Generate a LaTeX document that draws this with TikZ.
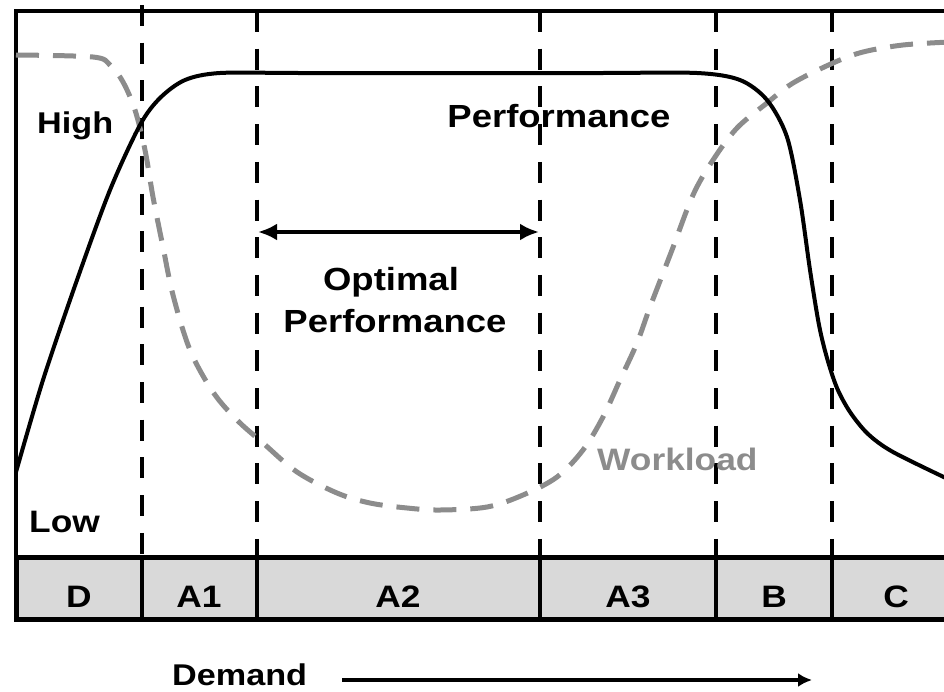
\documentclass[tikz,border=0pt]{standalone}
\usepackage{fontspec}
\setmainfont{Liberation Sans}[FakeStretch=1.14]
\usetikzlibrary{arrows.meta}
\definecolor{wlgray}{HTML}{8C8C8C}
\definecolor{bandgray}{HTML}{D9D9D9}
\tikzset{
  frameline/.style={line width=4.5pt},
  zoneline/.style={line width=4pt, dash pattern=on 21pt off 16.7pt},
  perfcurve/.style={line width=4pt, line join=round},
  loadcurve/.style={line width=5pt, wlgray, dash pattern=on 23pt off 14pt},
  lbl/.style={inner sep=0pt, font=\bfseries\fontsize{#1}{#1}\selectfont},
  zonelbl/.style={lbl=31, anchor=base},
  darrow/.style={line width=4pt, -{Latex[length=14pt,width=14pt]}},
  oarrow/.style={line width=4pt, {Latex[length=19pt,width=17pt]}-{Latex[length=19pt,width=17pt]}}
}
\begin{document}
\begin{tikzpicture}[x=1pt,y=-1pt]
\useasboundingbox (0,0) rectangle (944,691);
\begin{scope}
\clip (0,0) rectangle (944,691);

% zone band along the bottom
\draw[frameline, line width=5pt, fill=bandgray] (16,557) rectangle (1000,619);
\foreach \x in {142,257,540,716,832}
  \draw[line width=4pt] (\x,557) -- (\x,619);

% frame (left and top)
\draw[frameline] (16,557) -- (16,11) -- (1000,11);

% dashed zone boundaries
\draw[zoneline] (142,5) -- (142,555);
\foreach \x in {257,540,716,832}
  \draw[zoneline] (\x,11) -- (\x,555);

% workload curve
\draw[loadcurve] plot[smooth, tension=0.55] coordinates {
  (16,55) (93,57) (110,65) (123,82) (135,110) (145,150) (153,197)
  (163,247) (173,295) (190,350) (213,392) (237,420) (263,443)
  (297,472) (337,493) (370,503) (407,508) (440,510) (487,507)
  (523,495) (557,477) (583,450) (603,417) (620,380) (637,343)
  (650,307) (672,250) (693,195) (713,160) (737,128) (767,103)
  (793,83) (833,63) (863,52) (903,45) (950,42)};

% performance curve
\draw[perfcurve] plot[smooth, tension=0.5] coordinates {
  (16,472) (43,380) (77,280) (110,190) (140,125) (160,98) (185,80)
  (220,73) (300,73) (450,73) (600,73) (697,73) (740,80) (767,100)
  (787,137) (800,200) (810,270) (819,325) (827,358) (837,388)
  (850,412) (868,434) (893,452) (950,480)};
\end{scope}

% axis labels
\node[lbl=30, anchor=base west] (high) at (37,133) {High};
\node[lbl=31, anchor=base west] (low) at (29,532) {Low};
\node[lbl=32, anchor=base] (perf) at (559,127) {Performance};
\node[lbl=31, anchor=base west, text=wlgray] (load) at (597,470) {Workload};

% optimal range
\coordinate (optl) at (258,232);
\coordinate (optr) at (539,232);
\draw[oarrow] (optl) -- (optr);
\node[lbl=32, anchor=base] (opt1) at (391,290) {Optimal};
\node[lbl=32, anchor=base] (opt2) at (395,332) {Performance};

% zone names
\node[zonelbl] (zD)  at (79,607)  {D};
\node[zonelbl] (zA1) at (199,607) {A1};
\node[zonelbl] (zA2) at (398,607) {A2};
\node[zonelbl] (zA3) at (628,607) {A3};
\node[zonelbl] (zB)  at (774,607) {B};
\node[zonelbl] (zC)  at (896,607) {C};

% demand axis
\node[lbl=30, anchor=base west] (demand) at (172,685) {Demand};
\coordinate (dstart) at (342,680);
\coordinate (dend) at (812,680);
\draw[darrow] (dstart) -- (dend);
\end{tikzpicture}
\end{document}
